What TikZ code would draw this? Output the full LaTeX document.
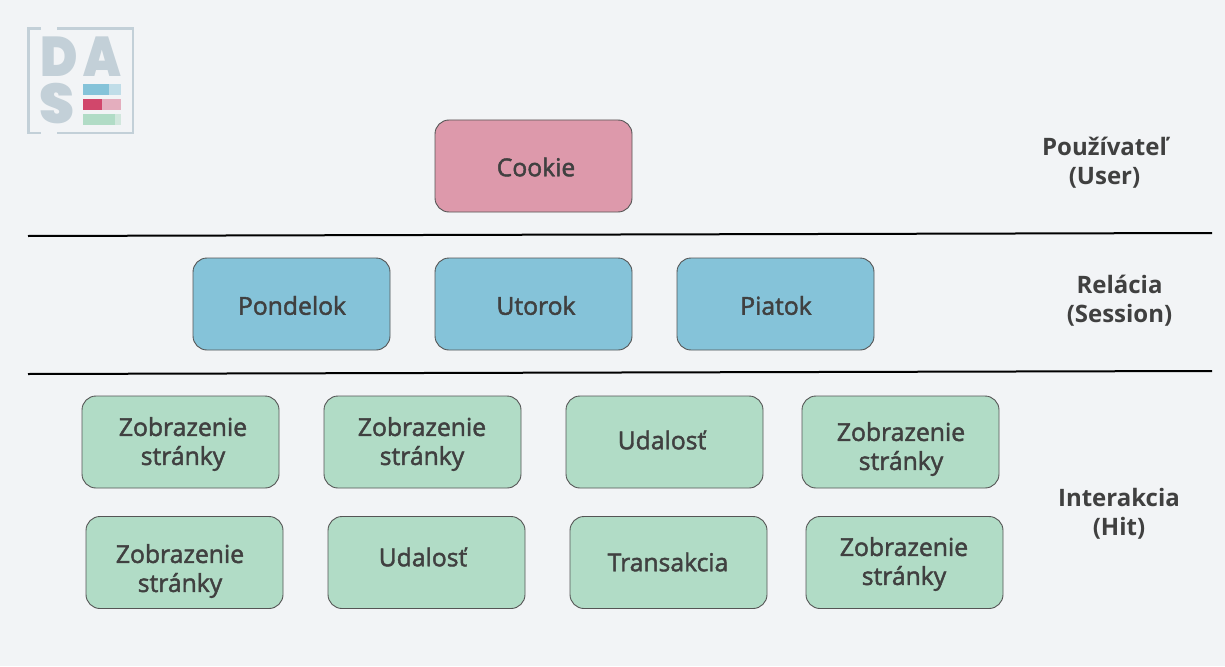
\documentclass[tikz,border=0pt]{standalone}
\usepackage{graphicx}
\usepackage{fontspec}
\setmainfont{Open Sans}
\newfontfamily\logofont{Poppins Black}
\definecolor{bgc}{HTML}{F2F4F6}
\definecolor{pinkc}{HTML}{DD99AB}
\definecolor{bluec}{HTML}{85C3D9}
\definecolor{greenc}{HTML}{B1DCC6}
\definecolor{txtc}{HTML}{404040}
\definecolor{edgec}{HTML}{555555}
\definecolor{logoc}{HTML}{C3D0D8}
\definecolor{redc}{HTML}{D1476B}
\newcommand\semibold{\leavevmode\special{pdf:code 2 Tr 0.45 w}}
\newcommand\semiboldoff{\special{pdf:code 0 Tr}}
\tikzset{
  box/.style={draw=edgec,line width=0.9pt,rounded corners=14pt,minimum width=197pt,minimum height=92pt,inner sep=0pt},
  cookiebox/.style={box,fill=pinkc},
  sessionbox/.style={box,fill=bluec},
  hitbox/.style={box,fill=greenc},
  boxtext/.style={inner sep=0pt,align=center,text=txtc,font=\fontsize{24.7}{29}\selectfont},
  side/.style={inner sep=0pt,align=center,text=txtc,font=\fontsize{24}{29}\selectfont\bfseries},
  rule/.style={draw=black,line width=2pt},
  logoline/.style={draw=logoc,line width=2.6pt},
  logoletter/.style={inner sep=0pt,text=logoc,font=\logofont\fontsize{56}{56}\selectfont}
}
\newcommand\bx[6]{%
  \node[#2] (#1) at (#3) {};
  \node[boxtext] (#1t) at (#4,#5) {\semibold #6\semiboldoff};
}
\begin{document}
\begin{tikzpicture}[x=1pt,y=-1pt]
\useasboundingbox (0,0) rectangle (1225,666);
\fill[bgc] (0,0) rectangle (1225,666);
% logo
\draw[logoline] (41,28.5) -- (28.5,28.5) -- (28.5,133) -- (41,133);
\draw[logoline] (57,28.5) -- (133,28.5) -- (133,133) -- (57,133);
\node[logoletter] (logod) at (59,57) {\scalebox{.9}[1]{D}};
\node[logoletter] (logoa) at (102,57) {\scalebox{.87}[1]{A}};
\node[logoletter] (logos) at (57,104) {S};
\fill[bluec] (83,84) rectangle (109,95);
\fill[bluec,opacity=.45] (109,84) rectangle (121,95);
\fill[redc] (83,99) rectangle (102,110);
\fill[redc,opacity=.4] (102,99) rectangle (121,110);
\fill[greenc] (83,114) rectangle (115,125);
\fill[greenc,opacity=.5] (115,114) rectangle (121,125);
% rules
\coordinate (r1a) at (28,236); \coordinate (r1b) at (1212,233);
\coordinate (r2a) at (28,374); \coordinate (r2b) at (1212,371);
\draw[rule] (r1a) -- (r1b);
\draw[rule] (r2a) -- (r2b);
% boxes
\bx{cookie}{cookiebox}{533.5,166}{536}{167}{Cookie}
\bx{mon}{sessionbox}{291.5,304}{292}{305.5}{Pondelok}
\bx{tue}{sessionbox}{533.5,304}{536}{305.5}{Utorok}
\bx{fri}{sessionbox}{775.5,304}{776}{305.5}{Piatok}
\bx{ha}{hitbox}{180.5,442}{183}{444}{Zobrazenie\\stránky}
\bx{hb}{hitbox}{422.5,442}{422}{444}{Zobrazenie\\stránky}
\bx{hc}{hitbox}{664.5,442}{662}{440}{Udalosť}
\bx{hd}{hitbox}{900.5,442}{901}{449}{Zobrazenie\\stránky}
\bx{he}{hitbox}{184.5,562.5}{180}{571}{Zobrazenie\\stránky}
\bx{hf}{hitbox}{426.5,562.5}{423}{557}{Udalosť}
\bx{hg}{hitbox}{668.5,562.5}{668}{562}{Transakcia}
\bx{hh}{hitbox}{904.5,562.5}{904}{564}{Zobrazenie\\stránky}
% side labels
\node[side] (user) at (1104.5,162.5) {Používateľ\\(User)};
\node[side] (session) at (1119.5,300.5) {Relácia\\(Session)};
\node[side] (hit) at (1119,513.5) {Interakcia\\(Hit)};
\end{tikzpicture}
\end{document}
